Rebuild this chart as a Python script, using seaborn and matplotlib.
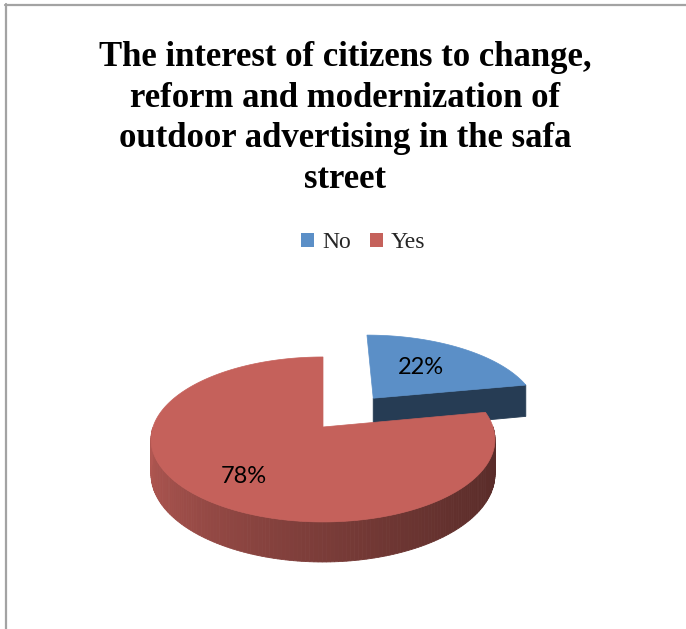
import numpy as np
import matplotlib
matplotlib.use("Agg")
import matplotlib.pyplot as plt
from matplotlib.patches import Polygon, Patch
from matplotlib.lines import Line2D
import seaborn as sns

# ---- data ----
categories = ["No", "Yes"]
shares = [22, 78]
pct_labels = ["22%", "78%"]
title_lines = [
    "The interest of citizens to change,",
    "reform and modernization of",
    "outdoor advertising in the safa",
    "street",
]

sns.set_theme(style="white")
plt.rcParams["font.family"] = ["Liberation Serif", "DejaVu Serif"]

top_colors = sns.color_palette(["#5b8fc7", "#c5615b"])
explode = [0.49, 0.0]

# ---- 3D pie geometry (pixel space, y downward) ----
CX, CY = 323.0, 427.0
RX, RY = 170.0, 80.6
PERSP = 0.151
DEPTH = 34.0


def project(u, v, h=0.0):
    f = 1.0 / (1.0 + PERSP * v)
    return CX + RX * u * f, CY - RY * v * f + DEPTH * h * f


def shade(color, k):
    return tuple(np.clip(np.array(color) * k, 0, 1))


W, H = 686, 629
fig = plt.figure(figsize=(W / 100, H / 100), dpi=100)
ax = fig.add_axes([0, 0, 1, 1])
ax.set_xlim(0, W)
ax.set_ylim(H, 0)
ax.axis("off")

total = float(sum(shares))
start = 90.0
slices = []
for cat, val, ex in zip(categories, shares, explode):
    sweep = 360.0 * val / total
    a0, a1 = start, start - sweep
    mid = np.deg2rad((a0 + a1) / 2)
    off = (ex * np.cos(mid), ex * np.sin(mid))
    slices.append((a0, a1, off))
    start = a1

# draw the large slice first, exploded one on top
order = [1, 0]
for i in order:
    a0, a1, (ou, ov) = slices[i]
    base = top_colors[i]
    thetas = np.deg2rad(np.linspace(a0, a1, 240))

    # outer rim (front-facing part only), lit from the left
    for t0, t1 in zip(thetas[:-1], thetas[1:]):
        tm = 0.5 * (t0 + t1)
        if np.sin(tm) >= 0:
            continue
        k = 0.9 - 0.45 * ((np.cos(tm) + 1) / 2) ** 0.7
        pts = [
            project(ou + np.cos(t0), ov + np.sin(t0)),
            project(ou + np.cos(t1), ov + np.sin(t1)),
            project(ou + np.cos(t1), ov + np.sin(t1), 1),
            project(ou + np.cos(t0), ov + np.sin(t0), 1),
        ]
        c = shade(base, k)
        ax.add_patch(Polygon(pts, closed=True, fc=c, ec=c, lw=0.6, zorder=2))

    # radial cut faces
    for ang, sign in ((a1, 1), (a0, -1)):
        r = np.deg2rad(ang)
        visible = (np.cos(r) > 1e-6) if sign == 1 else (np.cos(r) < -1e-6)
        if not visible:
            continue
        pts = [
            project(ou, ov),
            project(ou + np.cos(r), ov + np.sin(r)),
            project(ou + np.cos(r), ov + np.sin(r), 1),
            project(ou, ov, 1),
        ]
        c = shade(base, 0.42)
        ax.add_patch(Polygon(pts, closed=True, fc=c, ec=c, lw=0.6, zorder=3))

    # top face
    pts = [project(ou, ov)] + [project(ou + np.cos(t), ov + np.sin(t)) for t in thetas]
    ax.add_patch(Polygon(pts, closed=True, fc=base, ec=base, lw=0.5, zorder=4))

# percentage labels
label_r = [0.52, 0.67]
label_dy = [-3, 4]
for i, txt in enumerate(pct_labels):
    a0, a1, (ou, ov) = slices[i]
    mid = np.deg2rad((a0 + a1) / 2)
    x, y = project(ou + label_r[i] * np.cos(mid), ov + label_r[i] * np.sin(mid))
    ax.text(x, y + label_dy[i], txt, ha="center", va="center", fontsize=17,
            family=["Lato", "DejaVu Sans"], color="black", zorder=6)

# title, one line at a time
for j, line in enumerate(title_lines):
    ax.text(345, 58 + 40.4 * j, line, ha="center", va="center",
            fontsize=25, fontweight="bold", color="black")

# legend
handles = [Patch(facecolor=c, edgecolor="none") for c in top_colors]
fig.legend(handles, categories, loc="center", bbox_to_anchor=(363 / W, 1 - 243 / H),
           ncol=2, frameon=False, fontsize=17, handlelength=0.55, handleheight=0.55,
           handletextpad=0.35, columnspacing=0.8)

# chart-area border
frame = "#a3a3a3"
fig.add_artist(Line2D([5 / W, 1], [1 - 4.5 / H, 1 - 4.5 / H], color=frame, lw=1.6,
                      transform=fig.transFigure))
fig.add_artist(Line2D([5.5 / W, 5.5 / W], [0, 1 - 4 / H], color=frame, lw=1.6,
                      transform=fig.transFigure))

fig.savefig("out.png", dpi=100, facecolor="white")
